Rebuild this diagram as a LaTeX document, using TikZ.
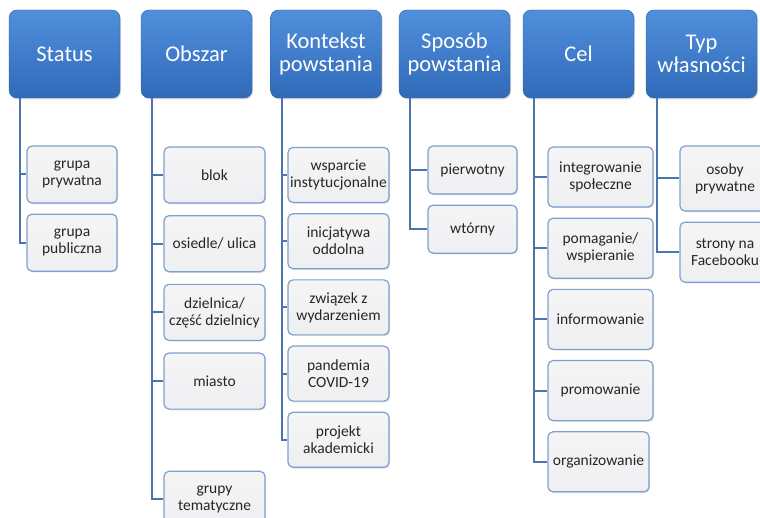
\documentclass[tikz,border=0pt]{standalone}
\usepackage{fontspec}
\setmainfont{Carlito}
\usetikzlibrary{positioning,shadows}
\definecolor{headtop}{RGB}{80,143,219}
\definecolor{headbot}{RGB}{48,106,185}
\definecolor{headline}{RGB}{45,95,165}
\definecolor{leafline}{RGB}{124,160,207}
\definecolor{leaftop}{RGB}{245,245,246}
\definecolor{leafbot}{RGB}{238,239,241}
\definecolor{trunk}{RGB}{76,117,172}
\definecolor{leaftext}{RGB}{38,38,38}

\begin{document}
\begin{tikzpicture}[
      x = 1pt, y = -1pt,
      node distance = 10pt,
      head/.style = {draw = headline, rounded corners = 8pt, top color = headtop, bottom color = headbot,
        text = white, minimum width = 111pt, minimum height = 88pt, align = center, inner sep = 2pt,
        font = \fontsize{22.5}{23}\selectfont,
        drop shadow = {opacity = 0.3, shadow xshift = 1pt, shadow yshift = -1.5pt}},
      leaf/.style 2 args = {draw = leafline, line width = 1.2pt, rounded corners = 5pt,
        top color = leaftop, bottom color = leafbot, text = leaftext,
        minimum width = #1, minimum height = #2, align = center, inner sep = 2pt,
        font = \fontsize{15.5}{17}\selectfont,
        drop shadow = {opacity = 0.25, shadow xshift = 1pt, shadow yshift = -1.2pt}},
      conn/.style = {draw = trunk, line width = 2pt}
      ]

  \useasboundingbox (0,0) rectangle (760,518);

  \node [head] (hStatus) at (64.5,54) {Status};
  \node [head] (hObszar) at (196.5,54) {Obszar};
  \node [head] (hKontekst) at (326,54) {Kontekst\\powstania};
  \node [head] (hSposob) at (454.5,54) {Sposób\\powstania};
  \node [head] (hCel) at (578.5,54) {Cel};
  \node [head] (hTyp) at (701.5,54) {Typ\\własności};

  \node [leaf={90pt}{57pt}] (sPryw) at (72,174.5) {grupa\\prywatna};
  \node [leaf={90pt}{57pt}, below = of sPryw] (sPubl) {grupa\\publiczna};

  \node [leaf={101pt}{56pt}] (oBlok) at (214.5,175) {blok};
  \node [leaf={101pt}{56pt}, below = 11.5pt of oBlok] (oOsiedle) {osiedle/ ulica};
  \node [leaf={101pt}{56pt}, below = 11.5pt of oOsiedle] (oDzielnica) {dzielnica/\\część dzielnicy};
  \node [leaf={101pt}{56pt}, below = 11.5pt of oDzielnica] (oMiasto) {miasto};
  \node [leaf={101pt}{56pt}, below = 61pt of oMiasto] (oTemat) {grupy\\tematyczne};

  \node [leaf={101pt}{55pt}] (kWsparcie) at (338.5,175) {wsparcie\\instytucjonalne};
  \node [leaf={101pt}{55pt}, below = of kWsparcie] (kInicj) {inicjatywa\\oddolna};
  \node [leaf={101pt}{55pt}, below = of kInicj] (kZwiazek) {związek z\\wydarzeniem};
  \node [leaf={101pt}{55pt}, below = of kZwiazek] (kPandemia) {pandemia\\COVID-19};
  \node [leaf={101pt}{55pt}, below = of kPandemia] (kProjekt) {projekt\\akademicki};

  \node [leaf={89pt}{48pt}] (pPierw) at (472.5,170) {pierwotny};
  \node [leaf={89pt}{48pt}, below = of pPierw] (pWtor) {wtórny};

  \node [leaf={105pt}{60pt}] (cInteg) at (600.5,177) {integrowanie\\społeczne};
  \node [leaf={105pt}{60pt}, below = of cInteg] (cPomag) {pomaganie/\\wspieranie};
  \node [leaf={105pt}{60pt}, below = of cPomag] (cInform) {informowanie};
  \node [leaf={105pt}{60pt}, below = of cInform] (cPromo) {promowanie};
  \node [leaf={101pt}{60pt}, below = of cPromo, xshift = -2pt] (cOrgan) {organizowanie};

  \node [leaf={90pt}{65pt}] (tOsoby) at (725,178.5) {osoby\\prywatne};
  \node [leaf={90pt}{60pt}, below = of tOsoby] (tStrony) {strony na\\Facebooku};

  \foreach \h in {Status, Obszar, Kontekst, Sposob, Cel, Typ}
    \coordinate (tr\h) at ([xshift = 11.5pt]h\h.south west);

  \foreach \t/\c in {Status/sPryw, Status/sPubl,
      Obszar/oBlok, Obszar/oOsiedle, Obszar/oDzielnica, Obszar/oMiasto, Obszar/oTemat,
      Kontekst/kWsparcie, Kontekst/kInicj, Kontekst/kZwiazek, Kontekst/kPandemia, Kontekst/kProjekt,
      Sposob/pPierw, Sposob/pWtor,
      Cel/cInteg, Cel/cPomag, Cel/cInform, Cel/cPromo, Cel/cOrgan,
      Typ/tOsoby, Typ/tStrony}
    \draw [conn] (tr\t) |- (\c.west);
\end{tikzpicture}
\end{document}
